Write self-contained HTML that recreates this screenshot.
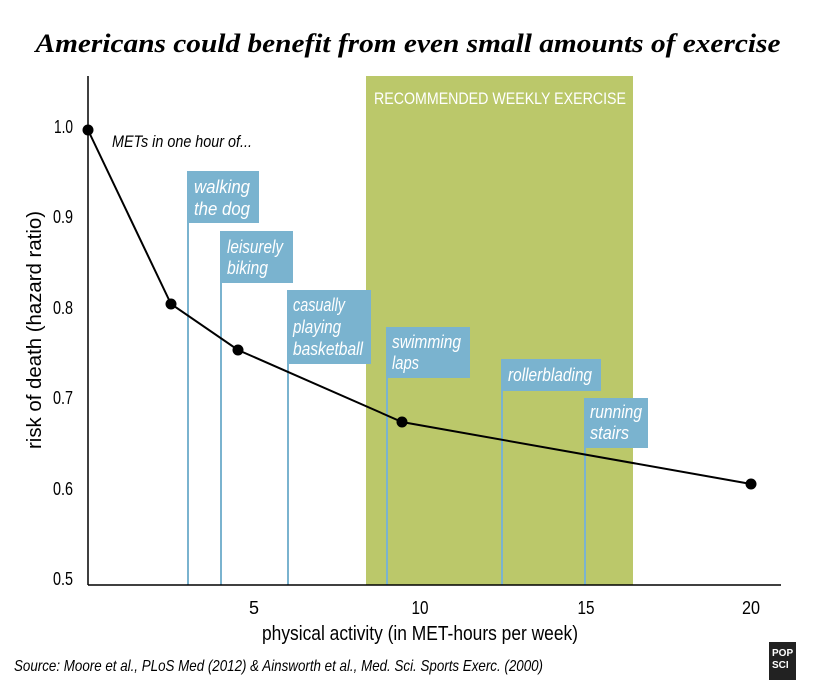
<!DOCTYPE html>
<html><head><style>body{margin:0;background:#fff}svg{display:block}</style></head><body>
<svg width="817" height="689" viewBox="0 0 817 689" xmlns="http://www.w3.org/2000/svg" font-family="Liberation Sans, sans-serif">
<text x="408" y="52" text-anchor="middle" font-family="Liberation Serif, serif" font-weight="bold" font-style="italic" font-size="26" textLength="745" lengthAdjust="spacingAndGlyphs">Americans could benefit from even small amounts of exercise</text>
<rect x="366" y="76" width="267" height="509" fill="#bbc86a"/>
<text x="500" y="104" text-anchor="middle" fill="#fff" font-size="17" textLength="252" lengthAdjust="spacingAndGlyphs">RECOMMENDED WEEKLY EXERCISE</text>
<g stroke="#7ab3cf" stroke-width="2">
<line x1="188" y1="171" x2="188" y2="585"/><line x1="221" y1="231" x2="221" y2="585"/><line x1="288" y1="290" x2="288" y2="585"/><line x1="387" y1="327" x2="387" y2="585"/><line x1="502" y1="359" x2="502" y2="585"/><line x1="585" y1="398" x2="585" y2="585"/>
</g>
<g fill="#7ab3cf">
<rect x="187" y="171" width="72" height="52"/><rect x="220" y="231" width="73" height="52"/><rect x="287" y="290" width="84" height="74"/><rect x="386" y="327" width="84" height="51"/><rect x="502" y="359" width="99" height="32"/><rect x="585" y="398" width="63" height="50"/>
</g>
<g fill="#fff" font-style="italic" font-size="18">
<text x="194" y="193" textLength="56" lengthAdjust="spacingAndGlyphs">walking</text><text x="194" y="215" textLength="56" lengthAdjust="spacingAndGlyphs">the dog</text>
<text x="227" y="253" textLength="56" lengthAdjust="spacingAndGlyphs">leisurely</text><text x="227" y="274" textLength="41" lengthAdjust="spacingAndGlyphs">biking</text>
<text x="293" y="311" textLength="52" lengthAdjust="spacingAndGlyphs">casually</text><text x="293" y="333" textLength="48" lengthAdjust="spacingAndGlyphs">playing</text><text x="293" y="355" textLength="70" lengthAdjust="spacingAndGlyphs">basketball</text>
<text x="392" y="348" textLength="69" lengthAdjust="spacingAndGlyphs">swimming</text><text x="392" y="369" textLength="27" lengthAdjust="spacingAndGlyphs">laps</text>
<text x="508" y="381" textLength="84" lengthAdjust="spacingAndGlyphs">rollerblading</text>
<text x="590" y="418" textLength="52" lengthAdjust="spacingAndGlyphs">running</text><text x="590" y="439" textLength="39" lengthAdjust="spacingAndGlyphs">stairs</text>
</g>
<line x1="88" y1="76" x2="88" y2="585" stroke="#000" stroke-width="1.5"/>
<line x1="88" y1="585" x2="781" y2="585" stroke="#000" stroke-width="1.5"/>
<polyline points="88,130 171,304 238,350 402,422 751,484" fill="none" stroke="#000" stroke-width="2"/>
<g fill="#000"><circle cx="88" cy="130" r="5.5"/><circle cx="171" cy="304" r="5.5"/><circle cx="238" cy="350" r="5.5"/><circle cx="402" cy="422" r="5.5"/><circle cx="751" cy="484" r="5.5"/></g>
<text x="112" y="147" font-style="italic" font-size="17" textLength="140" lengthAdjust="spacingAndGlyphs">METs in one hour of...</text>
<g font-size="18" text-anchor="end">
<text x="73" y="133" textLength="19" lengthAdjust="spacingAndGlyphs">1.0</text><text x="73" y="223" textLength="20" lengthAdjust="spacingAndGlyphs">0.9</text><text x="73" y="314" textLength="20" lengthAdjust="spacingAndGlyphs">0.8</text><text x="73" y="404" textLength="20" lengthAdjust="spacingAndGlyphs">0.7</text><text x="73" y="495" textLength="20" lengthAdjust="spacingAndGlyphs">0.6</text><text x="73" y="585" textLength="20" lengthAdjust="spacingAndGlyphs">0.5</text>
</g>
<g font-size="18" text-anchor="middle">
<text x="254" y="614">5</text><text x="420" y="614" textLength="17" lengthAdjust="spacingAndGlyphs">10</text><text x="586" y="614" textLength="17" lengthAdjust="spacingAndGlyphs">15</text><text x="751" y="614" textLength="18" lengthAdjust="spacingAndGlyphs">20</text>
</g>
<text x="420" y="640" text-anchor="middle" font-size="20" textLength="316" lengthAdjust="spacingAndGlyphs">physical activity (in MET-hours per week)</text>
<text transform="translate(41,330) rotate(-90)" text-anchor="middle" font-size="20" textLength="238" lengthAdjust="spacingAndGlyphs">risk of death  (hazard ratio)</text>
<text x="14" y="671" font-style="italic" font-size="16" textLength="529" lengthAdjust="spacingAndGlyphs">Source: Moore et al., PLoS Med (2012) &amp; Ainsworth et al., Med. Sci. Sports Exerc. (2000)</text>
<rect x="769" y="642" width="27" height="38" fill="#222"/>
<text x="772" y="656" fill="#fff" font-weight="bold" font-size="10">POP</text>
<text x="772" y="668" fill="#fff" font-weight="bold" font-size="10">SCI</text>
</svg>
</body></html>
